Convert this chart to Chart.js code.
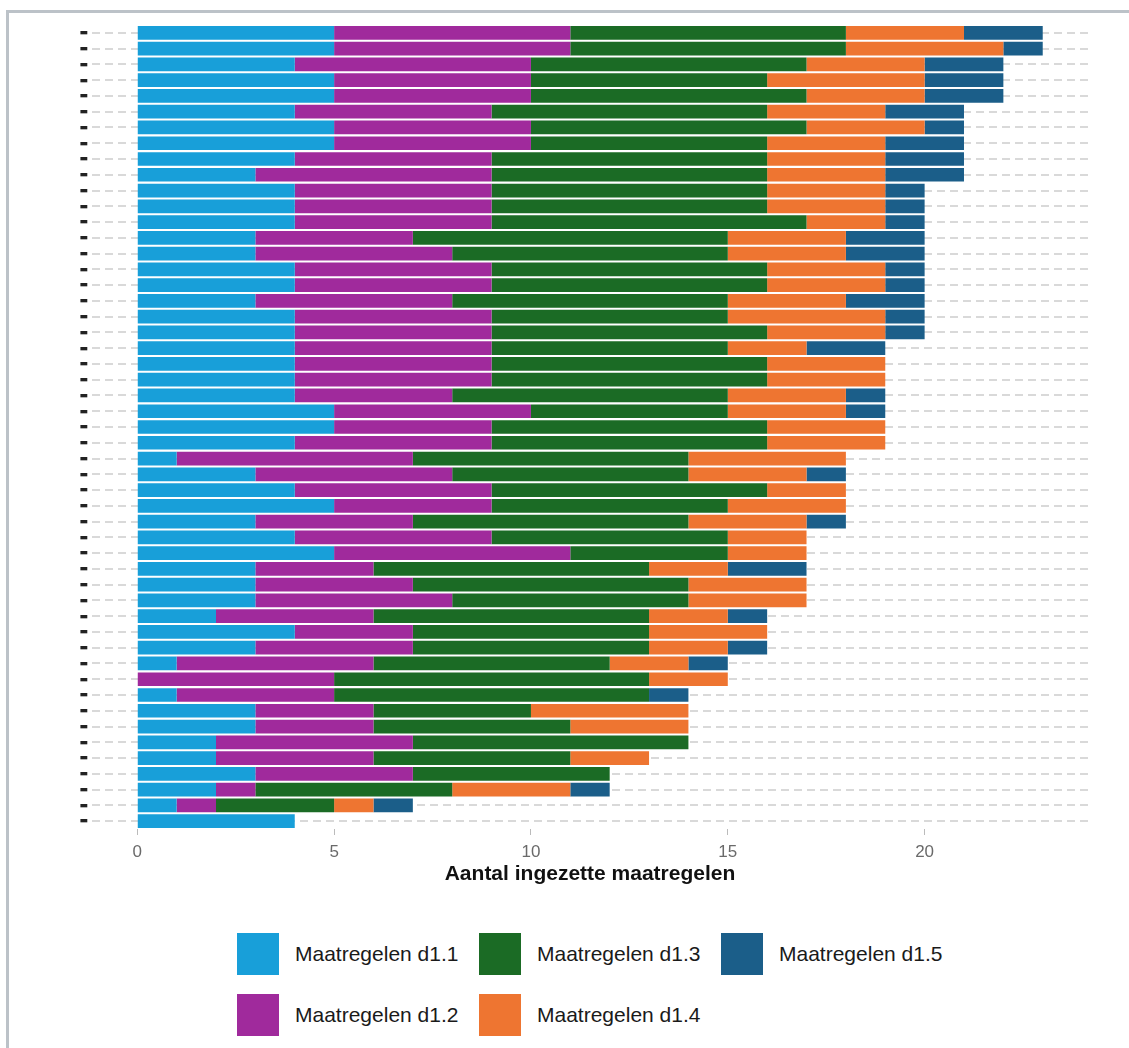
<!DOCTYPE html>
<html>
<head>
<meta charset="utf-8">
<script src="https://cdn.jsdelivr.net/npm/chart.js@4"></script>
<style>
  body { margin: 0; background: #fff; font-family: "Liberation Sans", Arial, sans-serif; }
  #frame { position: absolute; left: 6px; top: 10px; width: 1140px; height: 1060px; border: 3px solid #bcc2c8; box-sizing: border-box; }
  #wrap { position: absolute; left: 0; top: 0; width: 1129px; height: 900px; }
  .item { position: absolute; height: 42px; display: flex; align-items: center; font-size: 21px; color: #1a1a1a; }
  .item span.box { width: 42px; height: 42px; margin-right: 16px; display: inline-block; }
</style>
</head>
<body>
<div id="frame"></div>
<div id="wrap"><canvas id="myChart" width="1129" height="900"></canvas></div>
<div id="legend"></div>
<script>
// 51 rijen, van boven naar beneden
const categorieen = new Array(51).fill('\u25AC');

const d11 = [5,5,4,5,5,4,5,5,4,3,4,4,4, 3,3,4,4,3,4,4,4,4,4,4,5,5, 4,1,3,4,5,3,4,5,3,3,3,2, 4,3,1,0,1,3,3,2,2,3,2,1,4];
const d12 = [6,6,6,5,5,5,5,5,5,6,5,5,5, 4,5,5,5,5,5,5,5,5,5,4,5,4, 5,6,5,5,4,4,5,6,3,4,5,4, 3,4,5,5,4,3,3,5,4,4,1,1,0];
const d13 = [7,7,7,6,7,7,7,6,7,7,7,7,8, 8,7,7,7,7,6,7,6,7,7,7,5,7, 7,7,6,7,6,7,6,4,7,7,6,7, 6,6,6,8,8,4,5,7,5,5,5,3,0];
const d14 = [3,4,3,4,3,3,3,3,3,3,3,3,2, 3,3,3,3,3,4,3,2,3,3,3,3,3, 3,4,3,2,3,3,2,2,2,3,3,2, 3,2,2,2,0,4,3,0,2,0,3,1,0];
const d15 = [2,1,2,2,2,2,1,2,2,2,1,1,1, 2,2,1,1,2,1,1,2,0,0,1,1,0, 0,0,1,0,0,1,0,0,2,0,0,1, 0,1,1,0,1,0,0,0,0,0,1,1,0];

const reeksen = ['Maatregelen d1.1','Maatregelen d1.2','Maatregelen d1.3','Maatregelen d1.4','Maatregelen d1.5'];
const kleuren = ['#189fd9','#a02a9c','#1b6b25','#ee7531','#1b5e89'];
const xTicks = [0,5,10,15,20];

const renderChart = () => {
  const ctx = document.getElementById('myChart');
  const waarden = [d11,d12,d13,d14,d15];

  new Chart(ctx, {
    type: 'bar',
    data: {
      labels: categorieen,
      datasets: waarden.map((d,i) => ({
        label: reeksen[i],
        data: d,
        backgroundColor: kleuren[i],
        borderWidth: 0,
        barPercentage: 0.87,
        categoryPercentage: 1
      }))
    },
    options: {
      indexAxis: 'y',
      responsive: false,
      animation: false,
      layout: { padding: { top: 25, right: 41, left: 0, bottom: 9 } },
      plugins: { legend: { display: false }, tooltip: { enabled: false } },
      scales: {
        x: {
          stacked: true,
          min: -1.15,
          max: 24.15,
          afterBuildTicks: s => { s.ticks = xTicks.map(v => ({ value: v })); },
          afterFit: s => { s.height = 62; },
          grid: { drawOnChartArea: false, drawTicks: true, tickLength: 6, color: '#bbbbbb' },
          border: { display: false },
          ticks: { color: '#6a6a6a', font: { size: 17, family: 'Liberation Sans' }, padding: 7, maxRotation: 0 },
          title: { display: true, text: 'Aantal ingezette maatregelen', color: '#111',
                   font: { size: 21, weight: 'bold', family: 'Liberation Sans' }, padding: { top: 2 } }
        },
        y: {
          stacked: true,
          afterFit: s => { s.width = 92; },
          grid: { offset: false, drawTicks: false, color: '#d9d9d9', lineWidth: 2, borderDash: [8,5] },
          border: { display: false, dash: [8,5] },
          ticks: { color: '#222', font: { size: 9, family: 'DejaVu Sans' }, padding: 4, autoSkip: false }
        }
      }
    }
  });

  // legenda in kolommen zoals het origineel
  const pos = [[237,933],[237,994],[479,933],[479,994],[721,933]];
  const leg = document.getElementById('legend');
  reeksen.forEach((naam,i) => {
    const el = document.createElement('div');
    el.className = 'item';
    el.style.left = pos[i][0] + 'px';
    el.style.top = pos[i][1] + 'px';
    el.innerHTML = '<span class="box" style="background:' + kleuren[i] + '"></span>' + naam;
    leg.appendChild(el);
  });
};

renderChart();
</script>
</body>
</html>
